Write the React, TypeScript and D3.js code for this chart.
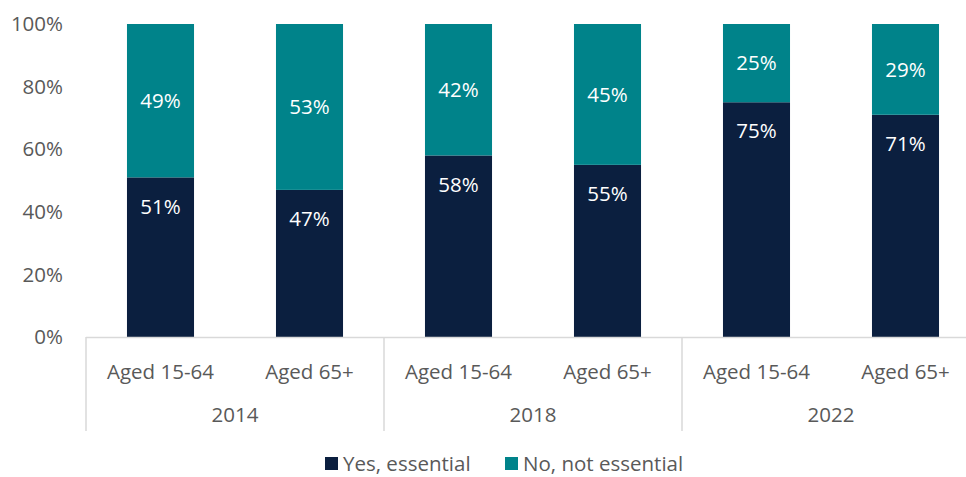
import React from "react";
import * as d3 from "d3";

const years = ["2014", "2018", "2022"];
const groups = ["Aged 15-64", "Aged 65+"];
const yesValues = [51, 47, 58, 55, 75, 71];
const noValues = [49, 53, 42, 45, 25, 29];
const yTicks = [0, 20, 40, 60, 80, 100];
const seriesNames = ["Yes, essential", "No, not essential"];
const colors = ["#0B1F3F", "#00838A"];

const W = 966, H = 477;
const left = 86, right = 980, top = 24, bottom = 337;
const font = "'Open Sans', sans-serif";
const textColor = "#595959";

export default function App() {
  const bars = years.flatMap((yr, i) => groups.map((g, j) => ({ yr, g, idx: i * 2 + j })));
  const x = d3.scaleBand<number>().domain(bars.map(b => b.idx)).range([left, right]).paddingInner(0.55).paddingOuter(0.275);
  const yearScale = d3.scaleBand<string>().domain(years).range([left, right]);
  const slot = (right - left) / bars.length;
  const y = d3.scaleLinear().domain([0, 100]).range([bottom, top]);
  const fs = 20.5;

  return (
    <svg width={W} height={H} style={{ position: "absolute", left: 0, top: 0, background: "#fff" }} fontFamily={font}>
      {yTicks.map(t => (
        <text key={t} x={63} y={y(t)} dy="0.35em" textAnchor="end" fontSize={fs} fill={textColor}>{t}%</text>
      ))}
      {bars.map(b => {
        const yes = yesValues[b.idx], no = noValues[b.idx];
        const x0 = x(b.idx)!;
        const bw = x.bandwidth();
        return (
          <g key={b.idx}>
            <rect x={x0} y={y(yes)} width={bw} height={y(0) - y(yes)} fill={colors[0]} />
            <rect x={x0} y={y(yes + no)} width={bw} height={y(yes) - y(yes + no)} fill={colors[1]} />
            <text x={x0 + bw / 2} y={y(yes) + 29} dy="0.35em" textAnchor="middle" fontSize={fs} fill="#fff">{yes}%</text>
            <text x={x0 + bw / 2} y={(y(yes) + y(yes + no)) / 2} dy="0.35em" textAnchor="middle" fontSize={fs} fill="#fff">{no}%</text>
          </g>
        );
      })}
      <line x1={left} x2={right} y1={bottom + 0.5} y2={bottom + 0.5} stroke="#D9D9D9" strokeWidth={1.5} />
      {years.map((yr, i) => (
        <line key={"s" + i} x1={yearScale(yr)!} x2={yearScale(yr)!} y1={bottom} y2={431} stroke="#D9D9D9" strokeWidth={1.5} />
      ))}
      {bars.map(b => (
        <text key={"c" + b.idx} x={left + slot * (b.idx + 0.5)} y={372} dy="0.35em" textAnchor="middle" fontSize={fs} fill={textColor}>{b.g}</text>
      ))}
      {years.map(yr => (
        <text key={"y" + yr} x={yearScale(yr)! + yearScale.bandwidth() / 2} y={415} dy="0.35em" textAnchor="middle" fontSize={fs} fill={textColor}>{yr}</text>
      ))}
      {seriesNames.map((n, i) => (
        <g key={n} transform={`translate(${i === 0 ? 325 : 505},457)`}>
          <rect x={0} y={0} width={13} height={13} fill={colors[i]} />
          <text x={18} y={6.5} dy="0.35em" fontSize={fs} fill={textColor}>{n}</text>
        </g>
      ))}
    </svg>
  );
}
